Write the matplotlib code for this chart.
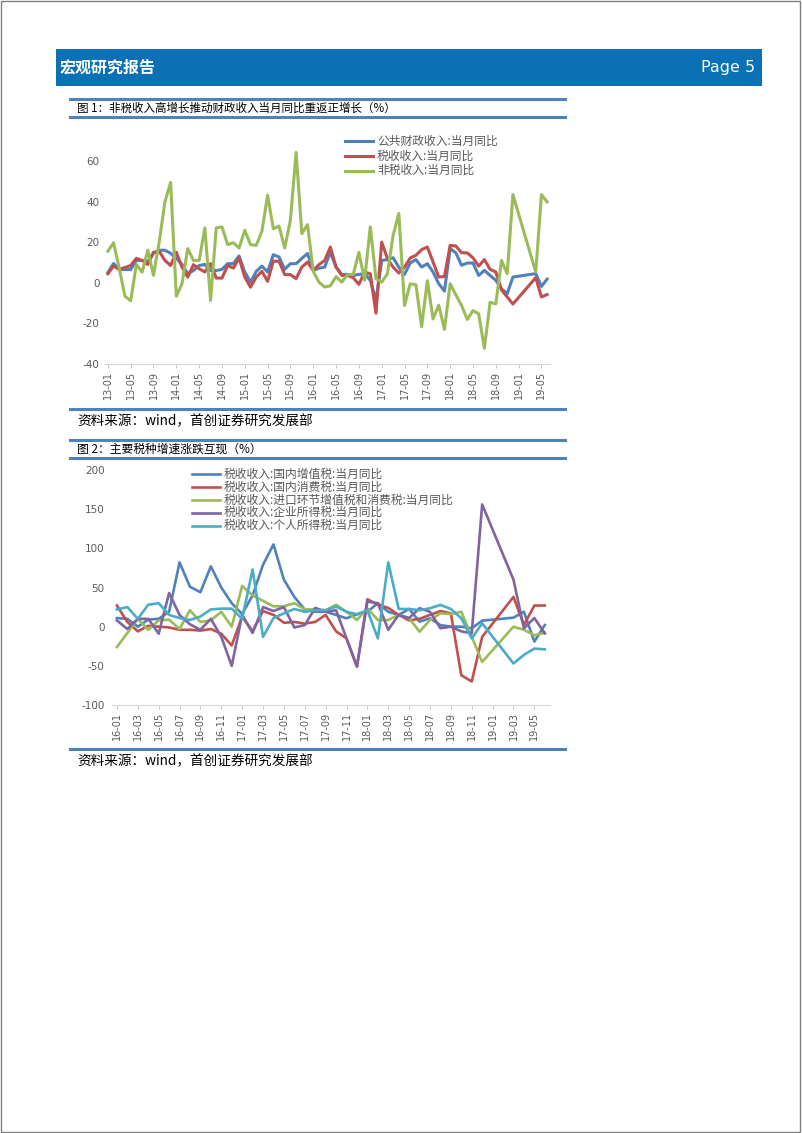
import numpy as np
import matplotlib
matplotlib.use("Agg")
import matplotlib.pyplot as plt
from matplotlib.lines import Line2D
from matplotlib.patches import Rectangle

plt.rcParams['font.family'] = ['Noto Sans CJK SC', 'DejaVu Sans']

W, H = 802, 1133

# ---------------- 图1 数据 (13-01 .. 19-06) ----------------
months1 = [f"{y:02d}-{m:02d}" for y in range(13, 20) for m in range(1, 13)][:78]

fiscal = [5, 9.5, 6.5, 6.5, 6.5, 11, 11, 10.5, 14.5, 16,
          16, 14.5, 12, 9, 4.5, 6, 8.5, 9, 6, 6,
          6.6, 9.4, 9.4, 13.2, 5.3, 0.3, 5.6, 8.2, 5.3, 13.8,
          12.7, 6.6, 9.4, 9.4, 12, 14.4, 6.1, 7.2, 7.7, 15,
          7.7, 4.1, 4.1, 3.6, 4.1, 4.5, 1.2, -8.7, 11, 11.4,
          12.3, 7.7, 4.1, 9.7, 11.4, 7.7, 9.4, 5.3, -0.5, -4.1,
          16.8, 14.7, 8.6, 9.7, 9.7, 3.6, 6.1, 3.6, 1.2, -3,
          -5.4, 2.8, None, None, None, 4.5, -1.8, 1.8]

tax = [4.4, 8.2, 6.6, 7.5, 8.5, 12, 11, 9, 15, 15.5,
       11, 8.5, 15, 7.7, 2.8, 8.9, 6.9, 5.3, 9.4, 2.3,
       2.3, 8.5, 7.2, 12.2, 2.8, -2.2, 2.8, 5.6, 0.7, 10.6,
       10.6, 4, 4, 2, 7.7, 10.2, 6.1, 8.9, 11, 17.6,
       7.7, 3.6, 3.6, 2.5, -0.8, 5.3, 4.4, -15, 20, 11.9,
       7.7, 4.8, 7.7, 12.2, 13.5, 16.3, 17.6, 10.2, 2.8, 3.1,
       18.4, 18.1, 14.8, 14.7, 12.3, 8.2, 11.4, 6.6, 5.3, -3.5,
       -7, -10.5, None, None, None, 2.5, -7, -5.8]

nontax = [15.5, 19.7, 7, -6.6, -8.9, 9, 5.2, 16, 3.6, 20,
          39.8, 49.4, -6.6, -0.5, 16.8, 11, 11, 27, -8.7, 27,
          27.5, 18.8, 19.7, 17.1, 25.8, 18.8, 18.4, 25.3, 43.1, 26.6,
          27.9, 17.1, 30.9, 64.2, 24.2, 28.6, 5.6, 0.3, -2.1, -1.5,
          3, 0.3, 4, 4, 15, 1.3, 27.5, 2, 0.3, 4.4,
          23.3, 34.1, -11.2, -0.5, -1, -21.6, 1, -17.8, -11, -23,
          -0.5, -6, -11.2, -18.1, -13.7, -15.3, -32.3, -9.6, -10.4, 11,
          4.4, 43.4, None, None, None, 5.3, 43.4, 39.8]

labels1 = ["公共财政收入:当月同比", "税收收入:当月同比", "非税收入:当月同比"]

# ---------------- 图2 数据 (16-01 .. 19-06) ----------------
months2 = [f"{y:02d}-{m:02d}" for y in range(16, 20) for m in range(1, 13)][:42]

vat = [11, 10, 0, 9, 10, 19, 82, 51, 44, 77,
       50, 30, 16, 40, 79, 105, 60, 38, 22, 19,
       19, 15, 10.7, 15.8, 19, 30, 19, 15, 22.6, 6.4,
       10.7, 2, 0, 0, -2, 7.7, None, None, 11.5, 19, -19, 2]

consumption = [27, 6, -6, 1, 0, -1, -4, -4, -5, -3,
               -9, -24, 13, -6, 20, 15, 5, 6, 4, 6,
               15, -6, -15, -51, 35, 28, 24, 15, 8, 10,
               15, 20, 17, -62, -70, -13, None, None, 38, 2, 27, 27]

imports = [-26, -8, 10, -4, 8, 9, -3, 21, 6, 8,
           19, 0, 52, 40, 33, 26, 26, 30, 22, 22,
           21, 28, 19, 8.5, 23.5, 8.5, 8.5, 15, 10.7, -6.4,
           8.5, 17, 16, 19, -13, -45, None, None, 0, -4, -11, -8]

corporate = [8, -3, 10, 10, -9, 43, 15, 3, -4, 10,
             -13, -50, 15, -8, 25, 20, 25, -1, 2, 24,
             19, 21, -15, -51, 32, 30, -4, 15, 11, 23.5,
             19, -2, 0, -6, -8.5, 156, None, None, 60, -2, 11, -8.5]

individual = [22, 25, 10, 28, 30, 15, 11, 8.5, 13, 22,
              23, 23, 10, 73, -13, 11, 17, 22.6, 19, 21,
              21, 25.6, 19, 15.8, 21, -15, 82, 22.6, 22.6, 21,
              23.5, 27.8, 22.6, 10.7, -15, 4.3, None, None, -47, -36, -28, -29]

labels2 = ["税收收入:国内增值税:当月同比", "税收收入:国内消费税:当月同比",
           "税收收入:进口环节增值税和消费税:当月同比", "税收收入:企业所得税:当月同比",
           "税收收入:个人所得税:当月同比"]

colors1 = ["#4F81BD", "#C0504D", "#9BBB59"]
colors2 = ["#4F81BD", "#C0504D", "#9BBB59", "#8064A2", "#4BACC6"]
GREY = "#595959"
RULE = "#4F81BD"


def fx(x):
    return x / W


def fy(y):
    return 1 - y / H


def draw_series(ax, values, color, lw):
    y = np.array([np.nan if v is None else v for v in values], dtype=float)
    x = np.arange(len(y))
    ok = ~np.isnan(y)
    ax.plot(x[ok], y[ok], color=color, lw=lw, solid_joinstyle='round')


def style_axes(ax, yticks, xlabels, step, ypad):
    for s in ['top', 'right', 'left']:
        ax.spines[s].set_visible(False)
    ax.spines['bottom'].set_color('#D9D9D9')
    ax.spines['bottom'].set_linewidth(0.8)
    ax.set_yticks(yticks)
    ax.set_yticklabels([str(v) for v in yticks], fontsize=7.5, color=GREY,
                       family='DejaVu Sans')
    ax.tick_params(axis='y', length=0, pad=ypad)
    pos = list(range(0, len(xlabels), step))
    ax.set_xticks(pos)
    ax.set_xticklabels([xlabels[i] for i in pos], rotation=90, fontsize=7,
                       color=GREY, family='DejaVu Sans')
    ax.tick_params(axis='x', length=3, width=0.6, color='#BFBFBF', pad=2)
    ax.patch.set_alpha(0)


def legend(items, x0, y0, pitch, lw):
    for i, (lab, col) in enumerate(items):
        y = y0 + i * pitch
        fig.add_artist(Line2D([fx(x0), fx(x0 + 28)], [fy(y), fy(y)],
                              color=col, lw=lw, transform=fig.transFigure))
        fig.text(fx(x0 + 32), fy(y), lab, fontsize=8.5, color=GREY,
                 va='center', ha='left')


def rule(y):
    fig.add_artist(Line2D([fx(70), fx(565)], [fy(y), fy(y)], color=RULE,
                          lw=2.2, transform=fig.transFigure))


fig = plt.figure(figsize=(W / 100, H / 100), dpi=100)

# page frame and header
fig.add_artist(Rectangle((0.001, 0.001), 0.997, 0.998, fill=False,
                         edgecolor='#808080', lw=1, transform=fig.transFigure))
fig.add_artist(Rectangle((fx(56), fy(86)), fx(762 - 56), (86 - 49) / H,
                         facecolor='#0A71B4', edgecolor='none',
                         transform=fig.transFigure))
fig.text(fx(60), fy(67.5), "宏观研究报告", color='white', fontsize=11.5,
         fontweight='bold', va='center', ha='left')
fig.text(fx(755), fy(67.5), "Page 5", color='white', fontsize=11.5,
         va='center', ha='right', family='DejaVu Sans')

# ---------------- 图1 ----------------
rule(99)
rule(117)
fig.text(fx(77), fy(108), "图 1：非税收入高增长推动财政收入当月同比重返正增长（%）",
         fontsize=8.3, va='center', ha='left')

ax1 = fig.add_axes([fx(105), fy(364), fx(550 - 105), (364 - 136.5) / H])
for vals, col in zip([fiscal, tax, nontax], colors1):
    draw_series(ax1, vals, col, 2.2)
ax1.set_xlim(-0.5, 77.5)
ax1.set_ylim(-40, 72)
style_axes(ax1, [-40, -20, 0, 20, 40, 60], months1, 4, 4)
legend(list(zip(labels1, colors1)), 345, 141, 14.8, 2.2)

rule(409)
fig.text(fx(77), fy(421), "资料来源：wind，首创证券研究发展部", fontsize=9.8,
         va='center', ha='left')

# ---------------- 图2 ----------------
rule(439.5)
rule(457.7)
fig.text(fx(77), fy(449), "图 2：主要税种增速涨跌互现（%）", fontsize=8.5,
         va='center', ha='left')

ax2 = fig.add_axes([fx(111.7), fy(705), fx(550 - 111.7), (705 - 470) / H])
for vals, col in zip([vat, consumption, imports, corporate, individual], colors2):
    draw_series(ax2, vals, col, 1.9)
ax2.set_xlim(-0.5, 41.5)
ax2.set_ylim(-100, 200)
style_axes(ax2, [-100, -50, 0, 50, 100, 150, 200], months2, 2, 5)
legend(list(zip(labels2, colors2)), 191.7, 474, 12.9, 1.9)

rule(749)
fig.text(fx(77), fy(761), "资料来源：wind，首创证券研究发展部", fontsize=9.8,
         va='center', ha='left')

fig.savefig("out.png", dpi=100)
